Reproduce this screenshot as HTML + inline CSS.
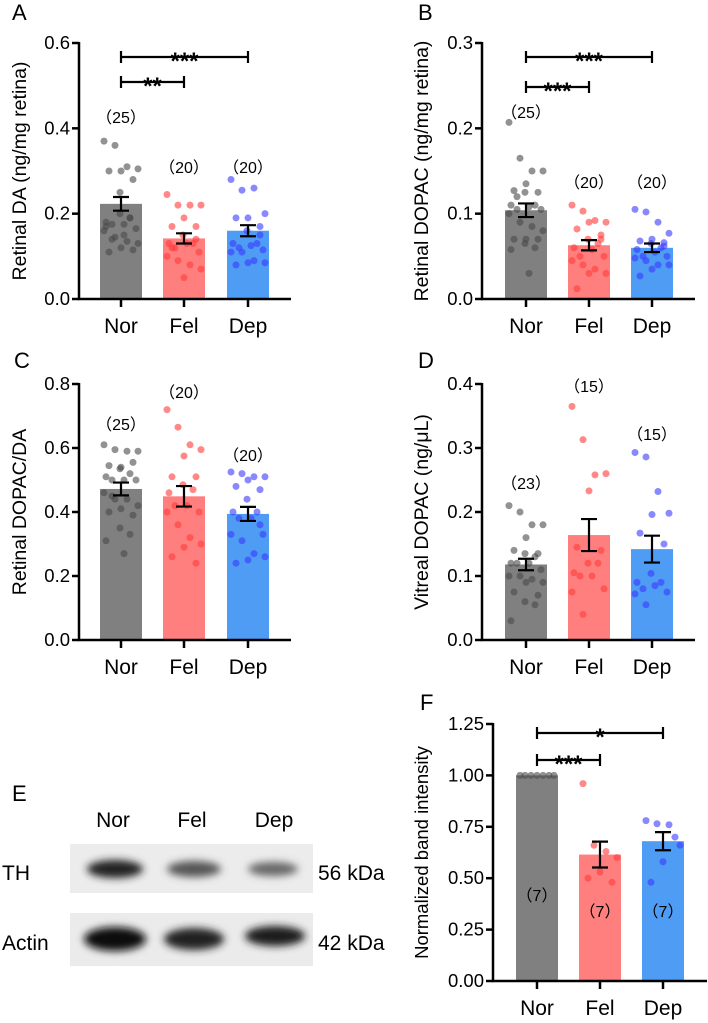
<!DOCTYPE html>
<html><head><meta charset="utf-8"><style>
html,body{margin:0;padding:0;background:#fff;}
svg{display:block;font-family:"Liberation Sans","Noto Sans CJK SC",sans-serif;}
</style></head><body>
<svg id="fig" width="708" height="1023" viewBox="0 0 708 1023">
<defs><filter id="blur" x="-30%" y="-60%" width="160%" height="220%"><feGaussianBlur stdDeviation="4"/></filter></defs>
<g id="blot">
<text x="12" y="801" font-size="22">E</text>
<text x="113" y="827" font-size="21" text-anchor="middle">Nor</text>
<text x="192" y="827" font-size="21" text-anchor="middle">Fel</text>
<text x="274" y="827" font-size="21" text-anchor="middle">Dep</text>
<text x="2" y="880" font-size="21">TH</text>
<text x="2" y="950" font-size="21">Actin</text>
<text x="318" y="880" font-size="21">56 kDa</text>
<text x="318" y="950" font-size="21">42 kDa</text>
<rect x="70" y="844" width="243" height="49" fill="#ececec"/>
<rect x="70" y="913" width="243" height="53" fill="#ebebeb"/>
<g filter="url(#blur)">
<ellipse cx="115" cy="869" rx="28" ry="9" fill="#222"/>
<ellipse cx="194" cy="869" rx="27" ry="8" fill="#555"/>
<ellipse cx="273" cy="869" rx="25" ry="7" fill="#666"/>
<ellipse cx="115" cy="939" rx="31" ry="12" fill="#111"/>
<ellipse cx="194" cy="939" rx="30" ry="11" fill="#222"/>
<ellipse cx="275" cy="936" rx="30" ry="10" fill="#1a1a1a"/>
</g>
</g>
</svg>
<script>
const groups = ["Nor","Fel","Dep"];
// Panel A
const aMeans = [0.223,0.142,0.160];
const aSem = [0.016,0.012,0.013];
const aNor = [0.37,0.36,0.31,0.305,0.30,0.30,0.28,0.25,0.19,0.18,0.175,0.175,0.165,0.16,0.145,0.135,0.13,0.12,0.11,0.115,0.20,0.19,0.17,0.15,0.14];
const aFel = [0.245,0.22,0.22,0.22,0.19,0.17,0.17,0.15,0.13,0.13,0.13,0.12,0.11,0.10,0.09,0.08,0.07,0.05,0.12,0.14];
const aDep = [0.28,0.255,0.26,0.20,0.19,0.19,0.17,0.16,0.13,0.13,0.125,0.12,0.115,0.11,0.11,0.09,0.085,0.085,0.08,0.15];
const aTicks = ["0.0","0.2","0.4","0.6"];
// Panel B
const bMeans = [0.104,0.063,0.060];
const bSem = [0.008,0.006,0.005];
const bNor = [0.207,0.165,0.15,0.15,0.135,0.127,0.125,0.125,0.11,0.11,0.108,0.105,0.105,0.10,0.09,0.085,0.08,0.07,0.07,0.07,0.065,0.06,0.058,0.03,0.12];
const bFel = [0.11,0.103,0.092,0.09,0.09,0.082,0.07,0.07,0.065,0.06,0.058,0.05,0.05,0.045,0.04,0.035,0.03,0.03,0.012,0.075];
const bDep = [0.105,0.102,0.09,0.077,0.07,0.068,0.066,0.065,0.06,0.058,0.055,0.05,0.05,0.048,0.045,0.04,0.04,0.035,0.027,0.062];
const bTicks = ["0.0","0.1","0.2","0.3"];
// Panel C
const cMeans = [0.472,0.449,0.394];
const cSem = [0.02,0.032,0.022];
const cNor = [0.61,0.595,0.59,0.59,0.54,0.545,0.555,0.535,0.52,0.51,0.50,0.50,0.50,0.46,0.44,0.44,0.42,0.41,0.40,0.39,0.35,0.33,0.31,0.27,0.45];
const cFel = [0.72,0.665,0.61,0.595,0.575,0.51,0.51,0.485,0.47,0.46,0.42,0.42,0.40,0.40,0.36,0.32,0.30,0.29,0.26,0.24];
const cDep = [0.525,0.52,0.51,0.51,0.50,0.48,0.47,0.44,0.40,0.40,0.38,0.38,0.33,0.33,0.31,0.27,0.26,0.25,0.24,0.36];
const cTicks = ["0.0","0.2","0.4","0.6","0.8"];
// Panel D
const dMeans = [0.118,0.164,0.142];
const dSem = [0.009,0.025,0.021];
const dNor = [0.21,0.20,0.18,0.18,0.16,0.14,0.135,0.135,0.13,0.12,0.12,0.12,0.11,0.10,0.10,0.095,0.09,0.09,0.075,0.07,0.06,0.055,0.03];
const dFel = [0.365,0.313,0.258,0.26,0.233,0.145,0.14,0.12,0.12,0.105,0.10,0.10,0.08,0.075,0.04];
const dDep = [0.293,0.286,0.232,0.198,0.196,0.167,0.15,0.104,0.09,0.09,0.085,0.08,0.075,0.072,0.055];
const dTicks = ["0.0","0.1","0.2","0.3","0.4"];
// Panel F
const fMeans = [1.0,0.615,0.68];
const fSem = [0,0.063,0.044];
const fNor = [1,1,1,1,1,1,1];
const fFel = [0.96,0.66,0.63,0.60,0.53,0.50,0.48];
const fDep = [0.78,0.765,0.76,0.66,0.58,0.48,0.70];
const fTicks = ["0.00","0.25","0.50","0.75","1.00","1.25"];

const NS="http://www.w3.org/2000/svg";
const svg=document.getElementById('fig');
function mk(tag,attrs,parent){const e=document.createElementNS(NS,tag);for(const k in attrs)e.setAttribute(k,attrs[k]);(parent||svg).appendChild(e);return e;}
const barCol=["#808080","#ff7f7f","#4f9cf5"];
const dotCol=["#4a4a4a","#ff3a3a","#3a3aff"];
const jit=[-17,-6,6,17,0,-12,12,-1,9,-15,3,-9,15];

function panel(o){
  const g=mk('g',{});
  
  
  const ymax=parseFloat(o.ticks[o.ticks.length-1]);
  const y=v=>o.y0-(v/ymax)*(o.y0-o.y1);
  const lt=mk('text',{x:o.lx,y:o.ly,'font-size':22},g);lt.textContent=o.id.toUpperCase();
  
  
  o.ticks.forEach(t=>{
    const yy=y(parseFloat(t));
    mk('line',{x1:o.ax-7,x2:o.ax,y1:yy,y2:yy,stroke:'#000','stroke-width':2.5},g);
    const tx=mk('text',{x:o.ax-9,y:yy+6,'font-size':18.5,'text-anchor':'end'},g);tx.textContent=t;
    
    
  });
  const yt=mk('text',{x:0,y:0,'font-size':o.tfs||19.5,'text-anchor':'middle',transform:`translate(${o.tx},${(o.y0+o.y1)/2}) rotate(-90)`},g);
  yt.textContent=o.title;
  
  
  const series=[o.nor,o.fel,o.dep];
  groups.forEach((gn,i)=>{
    const cx=o.cx[i];
    const top=y(o.means[i]);
    const b=mk('rect',{x:cx-21,y:top,width:42,height:o.y0-top,fill:barCol[i]},g);
    
    
    series[i].forEach((v,k)=>{
      const off=jit[k%jit.length];
      const d=mk('circle',{cx:cx+off,cy:y(v),r:3.5,fill:dotCol[i],'fill-opacity':0.6},g);
      
      
    });
    if(o.sem[i]>0){
      const hi=y(o.means[i]+o.sem[i]),lo=y(o.means[i]-o.sem[i]);
      const eb=mk('path',{d:`M${cx},${hi}V${lo}M${cx-8},${hi}H${cx+8}M${cx-8},${lo}H${cx+8}`,stroke:'#000','stroke-width':2.2,fill:'none'},g);
      
      
    }
    mk('line',{x1:cx,x2:cx,y1:o.y0,y2:o.y0+8,stroke:'#000','stroke-width':2.5},g);
    const xl=mk('text',{x:cx,y:o.y0+34,'font-size':21,'text-anchor':'middle'},g);xl.textContent=gn;
    
    
    const nl=mk('text',{x:cx,y:o.ny[i]+6,'font-size':16,'text-anchor':'middle'},g);nl.textContent='（'+o.n[i]+'）';
    
    
  });
  mk('path',{d:`M${o.ax},${o.y1-1}V${o.y0}H${o.xend}`,stroke:'#000','stroke-width':2.5,fill:'none'},g);
  (o.sig||[]).forEach(s=>{
    const x1=o.cx[s[0]],x2=o.cx[s[1]];
    const br=mk('path',{d:`M${x1},${s[2]-6}V${s[2]+6}M${x1},${s[2]}H${x2}M${x2},${s[2]-6}V${s[2]+6}`,stroke:'#000','stroke-width':2.2,fill:'none'},g);
    
    
    const st=mk('text',{x:(x1+x2)/2,y:s[2]+12,'font-size':24,'text-anchor':'middle','font-weight':'bold'},g);st.textContent=s[3];
    
    
  });
}
panel({id:'a',lx:12,ly:20,ax:79,y0:299,y1:43,xend:291,cx:[121,184,248],tx:26,title:'Retinal DA (ng/mg retina)',ticks:aTicks,means:aMeans,sem:aSem,nor:aNor,fel:aFel,dep:aDep,n:[25,20,20],ny:[117,167,167],sig:[[0,2,57,'***'],[0,1,82,'**']]});
panel({id:'b',lx:418,ly:20,ax:482,y0:299,y1:43,xend:695,cx:[526,589,652],tx:428,title:'Retinal DOPAC (ng/mg retina)',ticks:bTicks,means:bMeans,sem:bSem,nor:bNor,fel:bFel,dep:bDep,n:[25,20,20],ny:[112,182,182],sig:[[0,2,57,'***'],[0,1,87,'***']]});
panel({id:'c',lx:14,ly:368,ax:79,y0:640,y1:384,xend:291,cx:[121,184,248],tx:26,title:'Retinal DOPAC/DA',ticks:cTicks,means:cMeans,sem:cSem,nor:cNor,fel:cFel,dep:cDep,n:[25,20,20],ny:[424,392,455]});
panel({id:'d',lx:418,ly:368,ax:482,y0:640,y1:384,xend:695,cx:[526,589,652],tx:428,title:'Vitreal DOPAC (ng/μL)',ticks:dTicks,means:dMeans,sem:dSem,nor:dNor,fel:dFel,dep:dDep,n:[23,15,15],ny:[483,386,434]});
panel({id:'f',lx:420,ly:710,ax:493,y0:981,y1:724,xend:707,cx:[537,600,663],tx:428,tfs:18.5,title:'Normalized band intensity',ticks:fTicks,means:fMeans,sem:fSem,nor:fNor,fel:fFel,dep:fDep,n:[7,7,7],ny:[895,911,911],sig:[[0,2,733,'*'],[0,1,760,'***']]});
</script>
</body></html>
